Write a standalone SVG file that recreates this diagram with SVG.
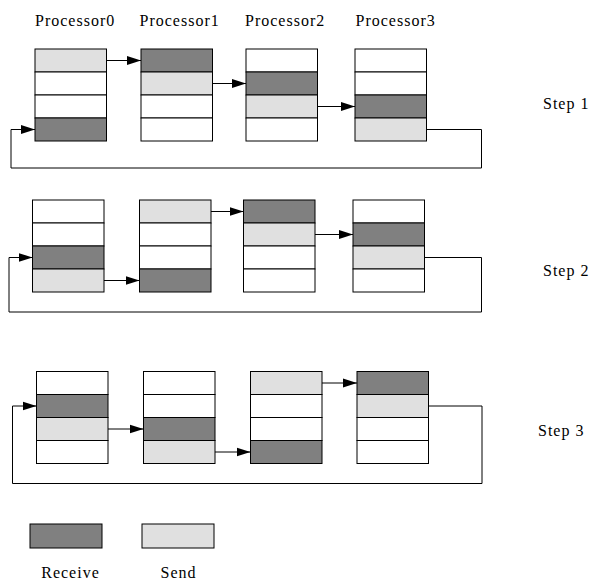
<svg xmlns="http://www.w3.org/2000/svg" width="589" height="581" viewBox="0 0 589 581">
  <style>
    .cell { stroke: #000; stroke-width: 1; }
    .w { fill: #ffffff; }
    .r { fill: #808080; }
    .s { fill: #e0e0e0; }
    .lbl { font-family: "Liberation Serif", "Times New Roman", serif; font-size: 16px; letter-spacing: 1px; fill: #000; }
    .wire { fill: none; stroke: #000; stroke-width: 1; }
  </style>
  <defs>
    <marker id="arrow" markerUnits="userSpaceOnUse" markerWidth="15" markerHeight="11" refX="14" refY="5" orient="auto">
      <path d="M0,0.5 L14,5 L0,9.5 Z" fill="#000"/>
    </marker>
  </defs>
  <rect width="589" height="581" fill="#fff"/>

  <!-- column headings -->
  <g id="headings" class="lbl">
    <text x="35" y="25.5">Processor0</text>
    <text x="139.5" y="25.5">Processor1</text>
    <text x="245" y="25.5">Processor2</text>
    <text x="355.5" y="25.5">Processor3</text>
  </g>

  <!-- step labels -->
  <g id="step-labels" class="lbl">
    <text x="543" y="108.5">Step 1</text>
    <text x="543" y="276">Step 2</text>
    <text x="538" y="436">Step 3</text>
  </g>

  <!-- Step 1 -->
  <g id="s1-p0">
    <rect class="cell s" x="35" y="49" width="71.5" height="23"/>
    <rect class="cell w" x="35" y="72" width="71.5" height="23"/>
    <rect class="cell w" x="35" y="95" width="71.5" height="23"/>
    <rect class="cell r" x="35" y="118" width="71.5" height="23"/>
  </g>
  <g id="s1-p1">
    <rect class="cell r" x="141" y="49" width="71.5" height="23"/>
    <rect class="cell s" x="141" y="72" width="71.5" height="23"/>
    <rect class="cell w" x="141" y="95" width="71.5" height="23"/>
    <rect class="cell w" x="141" y="118" width="71.5" height="23"/>
  </g>
  <g id="s1-p2">
    <rect class="cell w" x="246" y="49" width="71.5" height="23"/>
    <rect class="cell r" x="246" y="72" width="71.5" height="23"/>
    <rect class="cell s" x="246" y="95" width="71.5" height="23"/>
    <rect class="cell w" x="246" y="118" width="71.5" height="23"/>
  </g>
  <g id="s1-p3">
    <rect class="cell w" x="355" y="49" width="71.5" height="23"/>
    <rect class="cell w" x="355" y="72" width="71.5" height="23"/>
    <rect class="cell r" x="355" y="95" width="71.5" height="23"/>
    <rect class="cell s" x="355" y="118" width="71.5" height="23"/>
  </g>

  <!-- Step 2 -->
  <g id="s2-p0">
    <rect class="cell w" x="32.5" y="200" width="71.5" height="23"/>
    <rect class="cell w" x="32.5" y="223" width="71.5" height="23"/>
    <rect class="cell r" x="32.5" y="246" width="71.5" height="23"/>
    <rect class="cell s" x="32.5" y="269" width="71.5" height="23"/>
  </g>
  <g id="s2-p1">
    <rect class="cell s" x="139.5" y="200" width="71.5" height="23"/>
    <rect class="cell w" x="139.5" y="223" width="71.5" height="23"/>
    <rect class="cell w" x="139.5" y="246" width="71.5" height="23"/>
    <rect class="cell r" x="139.5" y="269" width="71.5" height="23"/>
  </g>
  <g id="s2-p2">
    <rect class="cell r" x="243.5" y="200" width="71.5" height="23"/>
    <rect class="cell s" x="243.5" y="223" width="71.5" height="23"/>
    <rect class="cell w" x="243.5" y="246" width="71.5" height="23"/>
    <rect class="cell w" x="243.5" y="269" width="71.5" height="23"/>
  </g>
  <g id="s2-p3">
    <rect class="cell w" x="353" y="200" width="71.5" height="23"/>
    <rect class="cell r" x="353" y="223" width="71.5" height="23"/>
    <rect class="cell s" x="353" y="246" width="71.5" height="23"/>
    <rect class="cell w" x="353" y="269" width="71.5" height="23"/>
  </g>

  <!-- Step 3 -->
  <g id="s3-p0">
    <rect class="cell w" x="36.5" y="371.5" width="71.5" height="23"/>
    <rect class="cell r" x="36.5" y="394.5" width="71.5" height="23"/>
    <rect class="cell s" x="36.5" y="417.5" width="71.5" height="23"/>
    <rect class="cell w" x="36.5" y="440.5" width="71.5" height="23"/>
  </g>
  <g id="s3-p1">
    <rect class="cell w" x="143.5" y="371.5" width="71.5" height="23"/>
    <rect class="cell w" x="143.5" y="394.5" width="71.5" height="23"/>
    <rect class="cell r" x="143.5" y="417.5" width="71.5" height="23"/>
    <rect class="cell s" x="143.5" y="440.5" width="71.5" height="23"/>
  </g>
  <g id="s3-p2">
    <rect class="cell s" x="250.5" y="371.5" width="71.5" height="23"/>
    <rect class="cell w" x="250.5" y="394.5" width="71.5" height="23"/>
    <rect class="cell w" x="250.5" y="417.5" width="71.5" height="23"/>
    <rect class="cell r" x="250.5" y="440.5" width="71.5" height="23"/>
  </g>
  <g id="s3-p3">
    <rect class="cell r" x="357" y="371.5" width="71.5" height="23"/>
    <rect class="cell s" x="357" y="394.5" width="71.5" height="23"/>
    <rect class="cell w" x="357" y="417.5" width="71.5" height="23"/>
    <rect class="cell w" x="357" y="440.5" width="71.5" height="23"/>
  </g>

  <!-- transfers between processors -->
  <g id="connectors" class="wire">
    <path d="M106.5,60.5 H141" marker-end="url(#arrow)"/>
    <path d="M212.5,83.5 H246" marker-end="url(#arrow)"/>
    <path d="M317.5,106.5 H355" marker-end="url(#arrow)"/>
    <path d="M426.5,129.5 H481.5 V168 H11 V129.5 H35" marker-end="url(#arrow)"/>

    <path d="M104,280.5 H139.5" marker-end="url(#arrow)"/>
    <path d="M211,211.5 H243.5" marker-end="url(#arrow)"/>
    <path d="M315,234.5 H353" marker-end="url(#arrow)"/>
    <path d="M424.5,257.5 H481.5 V312 H9 V257.5 H32.5" marker-end="url(#arrow)"/>

    <path d="M108,429 H143.5" marker-end="url(#arrow)"/>
    <path d="M215,452 H250.5" marker-end="url(#arrow)"/>
    <path d="M322,383 H357" marker-end="url(#arrow)"/>
    <path d="M428.5,406 H482 V483.5 H12.5 V406 H36.5" marker-end="url(#arrow)"/>
  </g>

  <!-- legend -->
  <g id="legend-receive">
    <rect class="cell r" x="30" y="524" width="72" height="24"/>
    <text class="lbl" x="70.5" y="577.5" text-anchor="middle">Receive</text>
  </g>
  <g id="legend-send">
    <rect class="cell s" x="142" y="524" width="72" height="24"/>
    <text class="lbl" x="178.5" y="577.5" text-anchor="middle">Send</text>
  </g>
</svg>
